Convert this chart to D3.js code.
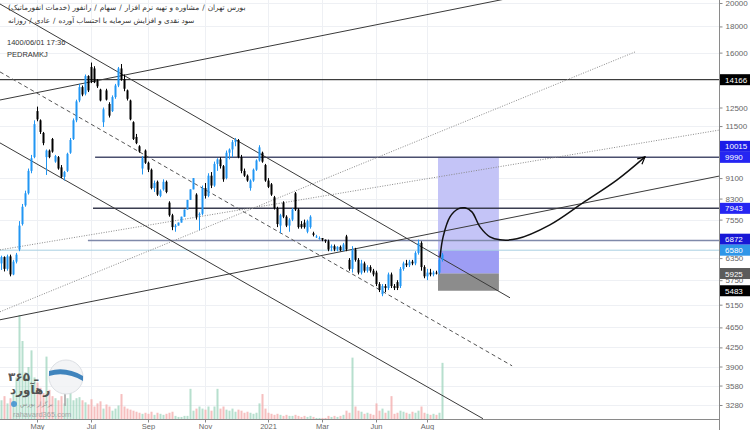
<!DOCTYPE html>
<html>
<head>
<meta charset="utf-8">
<script src="https://cdn.jsdelivr.net/npm/d3@7"></script>
<style>
  body { margin: 0; background: #fff; }
  svg { display: block; }
</style>
</head>
<body>
<svg id="chart" width="750" height="430"></svg>
<script>
// daily candles [open, high, low, close]
var ohlc = [
  [6200,6420,6020,6380],[6380,6400,5980,6050],[6050,6450,6000,6400],[6400,6450,5850,5900],[5900,6300,5880,6250],
  [6250,6500,6200,6450],[6600,7500,6550,7350],[7400,8100,7350,8000],[8050,8600,8000,8500],[8500,9500,8450,9400],
  [9400,10100,9300,9950],[10000,11800,9950,11600],[12300,12550,11750,11850],[11800,11850,11100,11200],[11150,11200,10550,10650],
  [10000,10350,9230,10300],[10300,10350,9950,10000],[10850,10900,10200,10250],[9800,10100,9750,10050],[10000,10050,9450,9500],
  [9550,9650,9100,9150],[9150,9400,9000,9350],[9400,10200,9350,10150],[10200,10900,10150,10800],[10850,11900,10800,11800],
  [11800,12950,11700,12850],[12900,13900,12800,13700],[13700,13800,13150,13250],[13300,14500,13200,14400],[14400,14450,13400,13500],
  [15000,15300,13950,14050],[14900,15050,13950,14000],[14100,14200,13650,13750],[13550,13600,12850,12900],[11700,12500,11450,12400],
  [13500,13600,12900,12950],[12700,12800,11950,12050],[12300,13200,12250,13100],[13100,13900,13000,13800],[13800,15000,13700,14900],
  [14900,15200,14100,14200],[14200,14500,13450,13600],[13500,13550,12900,13000],[12900,12950,11800,11850],[11700,11750,10800,10850],
  [10950,11100,10600,10650],[10500,10550,10200,10250],[9500,10050,9250,9950],[10300,10350,9700,9750],[9750,9800,9350,9450],
  [9450,9500,8650,8700],[8700,9000,8550,8900],[8950,9000,8400,8450],[8400,8650,8350,8600],[8650,9050,8600,8950],
  [8950,9000,8500,8550],[8150,8200,7650,7700],[7700,7750,7200,7300],[7300,7400,7150,7350],[7350,7450,7350,7450],
  [7450,7650,7450,7650],[7650,7900,7650,7900],[7900,8250,7900,8250],[8250,8650,8250,8650],[8650,9100,8650,9100],
  [8450,8500,7550,7650],[7700,7800,7200,7750],[7750,8800,7700,8700],[8700,8900,8300,8400],[8400,9300,8350,9200],
  [9200,9350,8700,8800],[8800,9800,8750,9700],[9700,9950,9400,9900],[9900,10000,9500,9600],[9600,9650,8950,9050],
  [9100,10300,9050,10200],[10200,10400,9900,10350],[10350,10800,10000,10700],[10700,10900,10500,10800],[10800,10850,9950,10000],
  [10000,10100,9300,9400],[9400,9500,9150,9200],[9200,9250,8950,9000],[8700,9050,8600,9000],[9000,9500,8950,9450],
  [9450,9900,9400,9850],[9850,10550,9800,10450],[10200,10250,9750,9800],[9650,9700,8950,9000],[9000,9100,8700,8750],
  [8850,8900,8400,8450],[8350,8400,7900,7950],[7950,8000,7300,7400],[7350,7750,7100,7700],[8150,8200,7600,7650],
  [7650,7700,7300,7350],[7350,7600,7150,7550],[7550,7950,7500,7900],[8500,8550,7850,7900],[7900,7950,7250,7300],
  [7400,7500,7250,7300],[7450,7550,7250,7300],[7150,7550,7100,7500],[7300,7700,7250,7650],[7100,7150,7000,7050],
  [7000,7050,6950,7000],[6950,7000,6900,6950],[6950,6950,6850,6900],[6900,6900,6800,6850],[6850,6900,6550,6600],
  [6650,6750,6550,6700],[6700,6750,6550,6600],[6600,6700,6550,6680],[6680,6720,6550,6580],[6580,6800,6550,6750],
  [7000,7050,6550,6600],[6300,6350,6000,6050],[6050,6700,5950,6600],[6600,6650,6250,6300],[6300,6350,5900,5950],
  [5950,6300,5900,6200],[6200,6250,5950,6000],[6000,6150,5950,6100],[6100,6150,5950,6000],[6000,6050,5850,5900],
  [5950,6000,5600,5650],[5650,5700,5450,5500],[5400,5650,5350,5600],[5600,5650,5450,5550],[5550,5950,5500,5900],
  [5900,5950,5550,5600],[5600,5650,5500,5550],[5700,5750,5500,5550],[5600,6100,5550,6050],[6050,6250,6000,6200],
  [6200,6300,6100,6150],[6150,6300,6100,6250],[6250,6300,6150,6200],[6200,6550,6150,6500],[6500,6900,6450,6800],
  [6800,6850,6000,6100],[6100,6150,5800,5850],[5850,6050,5750,5950],[5950,6050,5850,5900],[5900,6000,5850,5950],
  [5950,6000,5900,5930],[5950,6350,5900,6300],[6300,6500,6250,6450]
];

var volumes = [
  18,22,15,20,25, 40,100,75,45,50, 66,40,35,30,25, 60,28,22,20,18,
  22,15,20,25,18, 20,21,18,16,14, 19,12,15,17,10, 14,12,8,10,13,
  24,12,10,9,8, 7,6,5,6,5, 7,4,6,5,4, 5,6,7,3,2,
  2,3,3,29,8, 10,12,10,9,12, 8,12,29,10,12, 9,8,10,7,9,
  8,6,7,6,5, 6,15,24,10,6, 5,4,5,4,3, 4,3,3,4,3,
  2,3,2,3,2, 1,1,1,1,3, 2,3,2,3,4, 8,6,59,12,8,
  7,5,6,5,4, 15,8,10,6,8, 22,5,6,8,7, 6,5,7,6,8,
  12,6,5,4,5, 4,6,54
];

var priceTicks = [20000, 18000, 16000, 12500, 11500, 9100, 8300, 7550, 6350, 5750, 5150, 4650, 4250, 3900, 3580, 3280];
var monthLabels = ["May", "Jul", "Sep", "Nov", "2021", "Mar", "Jun", "Aug"];
var monthIndex = [12, 30, 49, 68, 89, 107, 125, 142];

var levelPrices = [14166, 10015, 9990, 7943, 6872, 6580, 5925, 5483];

// drawings, in [candle index, price]
var channelLines = [
  [[0, 19910], [170, 5312]],
  [[0, 10660], [161, 3084]],
  [[0, 12930], [180, 21010]],
  [[0, 4812], [240, 9190]]
];
var dashedLine = [[0, 14670], [170.7, 3912]];
var dottedLines = [
  [[0, 4988], [211.7, 16050]],
  [[0, 6590], [240, 11300]]
];
var hLines = [
  {price: 14166, from: 0},
  {price: 9990, from: 31.7},
  {price: 7943, from: 31},
  {price: 6872, from: 29.3},
  {price: 6580, from: 0}
];
var position = {from: 146, to: 166.3, target: 10015, mid: 6580, entry: 5925, stop: 5483};
var forecast = [
  [146.7, 6386], [147.7, 6988], [150, 7644], [152.7, 7924], [155, 7960], [157.3, 7818],
  [160, 7308], [163.3, 6988], [166.7, 6894], [172.3, 6925], [183.3, 7374], [194.3, 8140],
  [205.7, 9026], [215, 10010]
];

var titleParts = ["رانفور (خدمات انفورماتیک)", "سهام", "مشاوره و تهیه نرم افزار", "بورس تهران"];
var subtitleParts = ["روزانه", "عادی", "سود نقدی و افزایش سرمایه با احتساب آورده"];

var width = 750, height = 430,
    plotW = 719, plotH = 419;

var upColor = "#2196f3", downColor = "#000";

var x = d3.scaleLinear().domain([0, 240]).range([0, 720]);
var y = d3.scaleLog().domain([3280, 20000]).range([405, 3]);
var vy = d3.scaleLinear().domain([0, 100]).range([plotH, 315]);

var svg = d3.select("#chart");
var defs = svg.append("defs");
defs.append("clipPath").attr("id", "plot")
  .append("rect").attr("width", plotW).attr("height", plotH);
defs.append("marker")
    .attr("id", "arrow")
    .attr("viewBox", "0 0 10 10")
    .attr("refX", 9).attr("refY", 5)
    .attr("markerWidth", 6).attr("markerHeight", 6)
    .attr("orient", "auto")
  .append("path")
    .attr("d", "M1,1 L9,5 L1,9")
    .attr("fill", "none").attr("stroke", "#000").attr("stroke-width", 1.3);

var g = svg.append("g").attr("clip-path", "url(#plot)");

// grid
g.selectAll(".hgrid").data(priceTicks).enter().append("line")
    .attr("x1", 0).attr("x2", plotW)
    .attr("y1", function(d) { return Math.round(y(d)) + 0.5; })
    .attr("y2", function(d) { return Math.round(y(d)) + 0.5; })
    .attr("stroke", "#eef0f4");
g.selectAll(".vgrid").data(monthIndex).enter().append("line")
    .attr("x1", function(d) { return x(d + 0.5); })
    .attr("x2", function(d) { return x(d + 0.5); })
    .attr("y1", 0).attr("y2", plotH)
    .attr("stroke", "#eef0f4");

// volume
g.selectAll(".vol").data(volumes).enter().append("rect")
    .attr("x", function(d, i) { return x(i + 0.5) - 1; })
    .attr("width", 2)
    .attr("y", function(d) { return vy(d); })
    .attr("height", function(d) { return plotH - vy(d); })
    .attr("fill", function(d, i) { return ohlc[i][3] >= ohlc[i][0] ? "#9fd4bd" : "#f3a9a9"; })
    .attr("opacity", 0.75);

// long position tool
g.append("rect")
    .attr("x", x(position.from)).attr("width", x(position.to) - x(position.from))
    .attr("y", y(position.target)).attr("height", y(position.entry) - y(position.target))
    .attr("fill", "#c4c4f7");
g.append("rect")
    .attr("x", x(position.from)).attr("width", x(position.to) - x(position.from))
    .attr("y", y(position.mid)).attr("height", y(position.entry) - y(position.mid))
    .attr("fill", "#9d9df4");
g.append("rect")
    .attr("x", x(position.from)).attr("width", x(position.to) - x(position.from))
    .attr("y", y(position.entry)).attr("height", y(position.stop) - y(position.entry))
    .attr("fill", "#8c8c8c");

// horizontal levels
var hColors = ["#111", "#4a4f6e", "#3a3d50", "#7f89aa", "#a9d0e2"];
g.selectAll(".hline").data(hLines).enter().append("line")
    .attr("x1", function(d) { return x(d.from); })
    .attr("x2", plotW)
    .attr("y1", function(d) { return y(d.price); })
    .attr("y2", function(d) { return y(d.price); })
    .attr("stroke", function(d, i) { return hColors[i]; })
    .attr("stroke-width", function(d, i) { return i === 0 || i === 4 ? 1 : 1.5; });

var seg = d3.line()
    .x(function(d) { return x(d[0]); })
    .y(function(d) { return y(d[1]); });

g.selectAll(".trend").data(channelLines).enter().append("path")
    .attr("d", seg).attr("fill", "none")
    .attr("stroke", "#3a3a3a").attr("stroke-width", 1);
g.append("path").attr("d", seg(dashedLine)).attr("fill", "none")
    .attr("stroke", "#555").attr("stroke-dasharray", "4,3");
g.selectAll(".dotted").data(dottedLines).enter().append("path")
    .attr("d", seg).attr("fill", "none")
    .attr("stroke", "#8a8a8a").attr("stroke-dasharray", "1,1.5");

// candles
var candle = g.selectAll(".candle").data(ohlc).enter().append("g")
    .attr("fill", function(d) { return d[3] >= d[0] ? upColor : downColor; })
    .attr("stroke", function(d) { return d[3] >= d[0] ? upColor : downColor; });
candle.append("line")
    .attr("x1", function(d, i) { return Math.floor(x(i + 0.5)) + 0.5; })
    .attr("x2", function(d, i) { return Math.floor(x(i + 0.5)) + 0.5; })
    .attr("y1", function(d) { return y(d[1]); })
    .attr("y2", function(d) { return y(d[2]); });
candle.append("rect")
    .attr("stroke", "none")
    .attr("x", function(d, i) { return Math.floor(x(i + 0.5)) - 0.5; })
    .attr("width", 2)
    .attr("y", function(d) { return y(Math.max(d[0], d[3])); })
    .attr("height", function(d) { return Math.max(1, Math.abs(y(d[0]) - y(d[3]))); });

// forecast path
g.append("path")
    .attr("d", d3.line().curve(d3.curveCatmullRom)
      .x(function(d) { return x(d[0]); })
      .y(function(d) { return y(d[1]); })(forecast))
    .attr("fill", "none").attr("stroke", "#111").attr("stroke-width", 1.5)
    .attr("marker-end", "url(#arrow)");

// header: each segment is its own text so they run left to right
var head = svg.append("g").attr("font-family", "DejaVu Sans, sans-serif").attr("fill", "#333");

function writeRow(parts, x0, y0, size) {
  var cx = x0;
  parts.forEach(function(p, i) {
    if (i) {
      var s = head.append("text").attr("x", cx + 3).attr("y", y0).attr("font-size", size).text("/");
      cx += 3 + s.node().getComputedTextLength() + 3;
    }
    var t = head.append("text").attr("x", cx).attr("y", y0).attr("font-size", size).text(p);
    cx += t.node().getComputedTextLength();
  });
}
writeRow(titleParts, 8, 10, 7.4);
writeRow(subtitleParts, 8, 23, 7.2);

head.append("text").attr("x", 7).attr("y", 45).attr("font-size", 7.5)
    .attr("font-family", "Liberation Sans, Arial, sans-serif")
    .text("1400/06/01 17:36");
head.append("text").attr("x", 7).attr("y", 57).attr("font-size", 7.5)
    .attr("font-family", "Liberation Sans, Arial, sans-serif")
    .text("PEDRAMKJ");

// watermark logo
var logo = svg.append("g").attr("opacity", 0.85);
logo.append("line").attr("x1", 65).attr("x2", 65).attr("y1", 392).attr("y2", 406)
    .attr("stroke", "#aaa").attr("stroke-width", 2);
logo.append("circle").attr("cx", 66).attr("cy", 377).attr("r", 17)
    .attr("fill", "#f1f3f5").attr("stroke", "#d8dbe0");
logo.append("path").attr("d", "M49,371 Q66,366 83,376 L83,381 Q66,371 49,376 Z")
    .attr("fill", "#1f6fb2");
logo.append("text").attr("x", 8).attr("y", 381).attr("font-size", 12).attr("font-weight", "bold")
    .attr("font-family", "DejaVu Sans, sans-serif").attr("fill", "#3a3a3a").text("۳۶۵ ـ");
logo.append("text").attr("x", 10).attr("y", 394).attr("font-size", 12).attr("font-weight", "bold")
    .attr("font-family", "DejaVu Sans, sans-serif").attr("fill", "#3a3a3a").text("رهآورد");
logo.append("circle").attr("cx", 14).attr("cy", 404).attr("r", 3).attr("fill", "#3d8fd1");
logo.append("text").attr("x", 20).attr("y", 406).attr("font-size", 6)
    .attr("font-family", "DejaVu Sans, sans-serif").attr("fill", "#888").text("برگزار بورس");
logo.append("text").attr("x", 13).attr("y", 417).attr("font-size", 7.5)
    .attr("font-family", "Liberation Sans, Arial, sans-serif").attr("fill", "#999").text("rahavard365.com");

// axes
svg.append("line").attr("x1", 0).attr("x2", plotW).attr("y1", plotH + 0.5).attr("y2", plotH + 0.5)
    .attr("stroke", "#8a8a8a");
svg.append("line").attr("x1", plotW + 0.5).attr("x2", plotW + 0.5).attr("y1", 0).attr("y2", height)
    .attr("stroke", "#8a8a8a");

var yAxis = svg.append("g")
    .attr("transform", "translate(" + (plotW + 0.5) + ",0)")
    .call(d3.axisRight(y).tickValues(priceTicks).tickFormat(d3.format("d")).tickSize(3).tickPadding(3));
yAxis.select(".domain").remove();
yAxis.selectAll("text").attr("font-size", 8).attr("fill", "#666")
    .attr("font-family", "Liberation Sans, Arial, sans-serif");
yAxis.selectAll("line").attr("stroke", "#888");

var xAxisScale = d3.scaleOrdinal().domain(monthLabels).range(monthIndex.map(function(d) { return x(d + 0.5); }));
var xAxis = svg.append("g").attr("transform", "translate(0," + (plotH + 0.5) + ")");
xAxis.selectAll("line").data(monthIndex).enter().append("line")
    .attr("x1", function(d) { return x(d + 0.5); })
    .attr("x2", function(d) { return x(d + 0.5); })
    .attr("y1", 0).attr("y2", 3).attr("stroke", "#888");
xAxis.selectAll("text").data(monthLabels).enter().append("text")
    .attr("x", function(d) { return xAxisScale(d); })
    .attr("y", 9.5)
    .attr("text-anchor", "middle")
    .attr("font-size", 7.5).attr("fill", "#666")
    .attr("font-family", "Liberation Sans, Arial, sans-serif")
    .text(function(d) { return d; });

// price badges, pushed apart where they collide
var badgeColors = ["#000", "#1c1ce8", "#2525f2", "#2525f2", "#1717d6", "#2f96e8", "#5b5b5b", "#000"];
var badges = levelPrices.map(function(p, i) { return {price: p, y: y(p), color: badgeColors[i]}; });
for (var i = badges.length - 2; i >= 0; i--) {
  if (badges[i].y > badges[i + 1].y - 11) badges[i].y = badges[i + 1].y - 11;
}
var badge = svg.selectAll(".badge").data(badges).enter().append("g")
    .attr("transform", function(d) { return "translate(" + (plotW + 1) + "," + d.y + ")"; });
badge.append("rect").attr("x", 0).attr("y", -5.5).attr("width", 30).attr("height", 11)
    .attr("fill", function(d) { return d.color; });
badge.append("text").attr("x", 5).attr("y", 3)
    .attr("font-size", 8).attr("fill", "#fff")
    .attr("font-family", "Liberation Sans, Arial, sans-serif")
    .text(function(d) { return d.price; });
</script>
</body>
</html>
